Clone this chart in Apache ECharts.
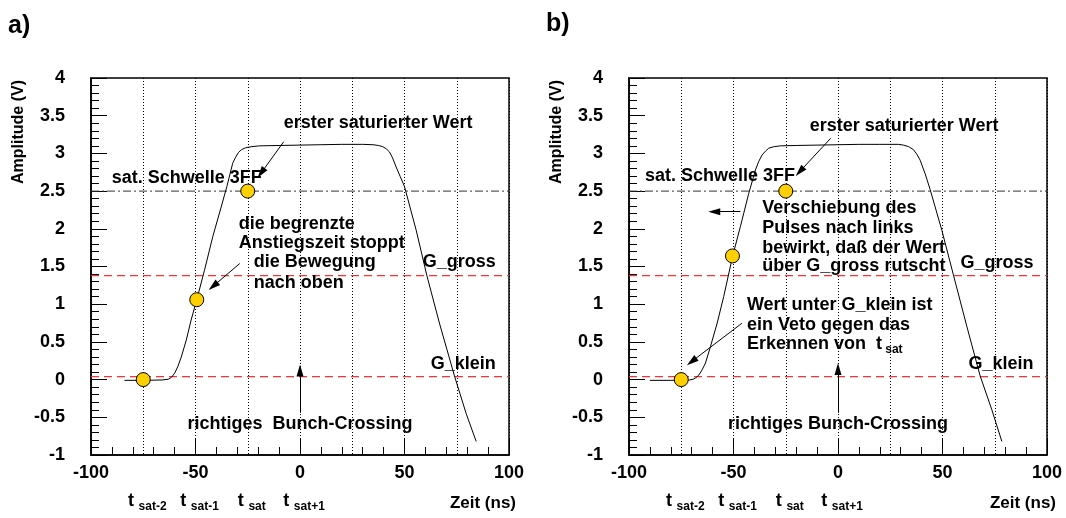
<!DOCTYPE html>
<html>
<head>
<meta charset="utf-8">
<script src="https://cdn.jsdelivr.net/npm/echarts@6/dist/echarts.min.js"></script>
<style>
  html, body { margin: 0; padding: 0; background: #fff; }
  #chart { width: 1066px; height: 518px; }
</style>
</head>
<body>
<div id="chart"></div>
<script>
// Pulse shape, panel a (time in ns, amplitude in V)
const timeA = [-84, -75, -66, -63, -61.5, -60, -58.5, -56.8, -54.4, -52.1, -49.4, -45.7, -41.7, -37.7, -35, -32.2, -30.8, -29.5, -28, -26, -23, -19.4, -10, 0, 10, 20, 30, 35, 37.5, 39.6, 41.3, 42.8, 44.3, 46, 48, 50, 55.6, 60.7, 66.7, 73.9, 79.5, 84.3];
const ampA  = [-0.01, -0.01, -0.005, 0.005, 0.03, 0.084, 0.17, 0.30, 0.525, 0.79, 1.06, 1.45, 1.90, 2.29, 2.56, 2.87, 2.95, 3.01, 3.05, 3.075, 3.09, 3.10, 3.105, 3.11, 3.115, 3.12, 3.12, 3.115, 3.105, 3.09, 3.06, 3.02, 2.94, 2.82, 2.69, 2.56, 1.98, 1.38, 0.75, 0.05, -0.45, -0.82];

// Pulse shape, panel b (shifted to earlier times)
const timeB = [-90, -80, -71, -69.3, -68, -66.6, -65, -63.4, -61, -57.8, -54.7, -50.4, -46.7, -42.7, -39.5, -38, -36.3, -34.7, -33.1, -30.5, -27.6, -20, -10, 0, 10, 20, 29, 31.3, 33.8, 36.1, 37.7, 39.3, 41.7, 44.1, 49.7, 55.3, 61.7, 68, 73.6, 78.4];
const ampB  = [-0.01, -0.01, -0.005, 0.005, 0.025, 0.06, 0.13, 0.22, 0.44, 0.75, 1.10, 1.64, 2.03, 2.47, 2.78, 2.89, 2.98, 3.03, 3.07, 3.09, 3.10, 3.105, 3.11, 3.115, 3.12, 3.12, 3.12, 3.11, 3.09, 3.05, 2.99, 2.91, 2.73, 2.52, 1.98, 1.38, 0.70, 0.05, -0.40, -0.82];

// Sampled values (yellow points)
const sampleTimeA = [-75, -49.4, -25];
const sampleAmpA  = [0, 1.06, 2.5];
const sampleTimeB = [-75, -50.5, -25];
const sampleAmpB  = [0, 1.64, 2.5];

// Thresholds
const satThreshold = 2.5;
const gGross = 1.38;
const gKlein = 0.04;

// Bunch-crossing time labels under the time axis
const bunchTicks = [-75, -50, -25, 0];
const bunchNames = ['sat-2', 'sat-1', 'sat', 'sat+1'];

// Annotation texts: [text, time, amplitude, alignment]
const notesA = [
  ['erster saturierter Wert', -7.8, 3.40, 'left'],
  ['sat. Schwelle 3FF', -90.1, 2.67, 'left'],
  ['die begrenzte', -29.3, 2.06, 'left'],
  ['Anstiegszeit stoppt', -29.3, 1.81, 'left'],
  ['die Bewegung', -22.1, 1.56, 'left'],
  ['nach oben', -22.1, 1.28, 'left'],
  ['G_gross', 93.7, 1.56, 'right'],
  ['G_klein', 93.7, 0.207, 'right'],
  ['richtiges  Bunch-Crossing', 0, -0.59, 'center']
];
const notesB = [
  ['erster saturierter Wert', -13.5, 3.36, 'left'],
  ['sat. Schwelle 3FF', -92.4, 2.70, 'left'],
  ['Verschiebung des', -36.2, 2.28, 'left'],
  ['Pulses nach links', -36.2, 2.01, 'left'],
  ['bewirkt, daß der Wert', -36.2, 1.75, 'left'],
  ['über G_gross rutscht', -36.2, 1.50, 'left'],
  ['G_gross', 93.5, 1.55, 'right'],
  ['G_klein', 93.5, 0.207, 'right'],
  ['Wert unter G_klein ist', -43.6, 0.99, 'left'],
  ['ein Veto gegen das', -43.6, 0.72, 'left'],
  ['{n|Erkennen von  t}{s| sat}', -43.6, 0.47, 'left'],
  ['richtiges Bunch-Crossing', 0, -0.59, 'center']
];

// Arrows: [[fromTime, fromAmp], [toTime, toAmp]]
const arrowsA = [
  [[-7.8, 3.155], [-18.6, 2.74]],
  [[-28.8, 1.54], [-41.5, 1.24]],
  [[0, -0.44], [0, 0.12]]
];
const arrowsB = [
  [[-3.5, 3.2], [-18.3, 2.76]],
  [[-46.7, 2.227], [-59.2, 2.227]],
  [[-46.0, 0.747], [-70.0, 0.24]],
  [[0, -0.44], [0, 0.14]]
];

const FONT = '"Liberation Sans", Arial, Helvetica, sans-serif';
const TXT = { fontFamily: FONT, fontWeight: 'bold', fontSize: 18, color: '#000', opacity: 1, textBorderWidth: 0 };
const zip = (xs, ys) => xs.map((x, i) => [x, ys[i]]);

const chart = echarts.init(document.getElementById('chart'), null, { renderer: 'canvas' });

const grids = [
  { left: 91, top: 78, width: 418, height: 377 },
  { left: 629, top: 78, width: 418, height: 377 }
].map(g => Object.assign({ show: true, borderColor: '#000', borderWidth: 1.5, backgroundColor: 'transparent' }, g));

function mainXAxis(gi) {
  return {
    type: 'value', gridIndex: gi, min: -100, max: 100, interval: 50, position: 'bottom',
    axisLine: { show: true, onZero: false, lineStyle: { color: '#000', width: 1.5 } },
    axisTick: { show: true, inside: true, length: 16, lineStyle: { color: '#000', width: 1 } },
    minorTick: { show: true, splitNumber: 5, length: 8, lineStyle: { color: '#000', width: 1 } },
    axisLabel: Object.assign({ margin: 9 }, TXT),
    splitLine: { show: false }
  };
}
function bunchXAxis(gi) {
  return {
    type: 'value', gridIndex: gi, min: -100, max: 100, interval: 25, position: 'bottom',
    axisLine: { show: false }, axisTick: { show: false },
    splitLine: { show: true, lineStyle: { color: '#000', width: 1, type: [1, 2] } },
    axisLabel: Object.assign({}, TXT, {
      fontSize: 17, margin: 34, padding: [0, 0, 0, 8],
      formatter: v => {
        const i = bunchTicks.indexOf(v);
        return i < 0 ? '' : '{t|t} {s|' + bunchNames[i] + '}';
      },
      rich: {
        t: Object.assign({}, TXT, { fontSize: 18, lineHeight: 24 }),
        s: Object.assign({}, TXT, { fontSize: 12, lineHeight: 12, verticalAlign: 'bottom' })
      }
    })
  };
}
function ampAxis(gi) {
  return {
    type: 'value', gridIndex: gi, min: -1, max: 4, interval: 0.5,
    axisLine: { show: true, onZero: false, lineStyle: { color: '#000', width: 1.5 } },
    axisTick: { show: true, inside: true, length: 16, lineStyle: { color: '#000', width: 1 } },
    minorTick: { show: true, splitNumber: 5, length: 8, lineStyle: { color: '#000', width: 1 } },
    axisLabel: Object.assign({ margin: 26 }, TXT),
    splitLine: { show: false }
  };
}

function noteLabel(n) {
  const lab = Object.assign({
    show: true, formatter: n[0], distance: 0,
    position: n[3] === 'left' ? 'right' : (n[3] === 'right' ? 'left' : 'inside')
  }, TXT);
  if (n[0].indexOf('{') >= 0) {
    lab.rich = {
      n: Object.assign({}, TXT, { lineHeight: 24 }),
      s: Object.assign({}, TXT, { fontSize: 12, lineHeight: 12, verticalAlign: 'bottom' })
    };
  }
  return lab;
}

// Horizontal threshold line spanning the whole time range
function levelLine(xi, yi, level, color, dash, width) {
  return {
    type: 'line', xAxisIndex: xi, yAxisIndex: yi, z: 2, silent: true,
    showSymbol: false, symbol: 'none', color: color,
    data: [[-100, level], [100, level]],
    itemStyle: { color: color },
    lineStyle: { color: color, width: width, type: dash, opacity: 1 }
  };
}

function panelSeries(gi, times, amps, sT, sA, notes, arrows) {
  const xi = gi * 2, yi = gi;
  return [
    levelLine(xi, yi, satThreshold, '#333333', [8, 3, 2, 3], 1),
    levelLine(xi, yi, gGross, '#ff3030', [8, 5], 1.2),
    levelLine(xi, yi, gKlein, '#ff3030', [8, 5], 1.2),
    {
      type: 'line', xAxisIndex: xi, yAxisIndex: yi, data: zip(times, amps),
      showSymbol: false, smooth: false, silent: true, z: 3,
      lineStyle: { color: '#000', width: 1, opacity: 1 }
    },
    {
      type: 'lines', coordinateSystem: 'cartesian2d', xAxisIndex: xi, yAxisIndex: yi, z: 4,
      symbol: ['none', 'triangle'], symbolSize: [1, [7, 12]],
      lineStyle: { color: '#000', width: 1, opacity: 1 },
      data: arrows.map(a => ({ coords: a }))
    },
    {
      type: 'scatter', xAxisIndex: xi, yAxisIndex: yi, data: zip(sT, sA), z: 5,
      symbol: 'circle', symbolSize: 14,
      itemStyle: { color: '#ffd000', borderColor: '#000', borderWidth: 1, opacity: 1 }
    },
    {
      type: 'scatter', xAxisIndex: xi, yAxisIndex: yi, z: 6, symbolSize: 0, silent: true,
      itemStyle: { color: '#000', opacity: 1 },
      data: notes.map(n => ({ value: [n[1], n[2]], label: noteLabel(n) }))
    }
  ];
}

const option = {
  animation: false,
  backgroundColor: '#fff',
  grid: grids,
  xAxis: [mainXAxis(0), bunchXAxis(0), mainXAxis(1), bunchXAxis(1)],
  yAxis: [ampAxis(0), ampAxis(1)],
  series: [
    ...panelSeries(0, timeA, ampA, sampleTimeA, sampleAmpA, notesA, arrowsA),
    ...panelSeries(1, timeB, ampB, sampleTimeB, sampleAmpB, notesB, arrowsB)
  ],
  graphic: [
    { type: 'text', x: 8, y: 26, style: { text: 'a)', font: 'bold 25px ' + FONT, fill: '#000', align: 'left', verticalAlign: 'middle' } },
    { type: 'text', x: 546, y: 24, style: { text: 'b)', font: 'bold 25px ' + FONT, fill: '#000', align: 'left', verticalAlign: 'middle' } },
    { type: 'text', x: 19, y: 80, rotation: Math.PI / 2, style: { text: 'Amplitude (V)', font: 'bold 16px ' + FONT, fill: '#000', align: 'right', verticalAlign: 'middle' } },
    { type: 'text', x: 557, y: 80, rotation: Math.PI / 2, style: { text: 'Amplitude (V)', font: 'bold 16px ' + FONT, fill: '#000', align: 'right', verticalAlign: 'middle' } },
    { type: 'text', x: 516, y: 503, style: { text: 'Zeit (ns)', font: 'bold 17px ' + FONT, fill: '#000', align: 'right', verticalAlign: 'middle' } },
    { type: 'text', x: 1056, y: 503, style: { text: 'Zeit (ns)', font: 'bold 17px ' + FONT, fill: '#000', align: 'right', verticalAlign: 'middle' } }
  ]
};

chart.setOption(option);
</script>
</body>
</html>
